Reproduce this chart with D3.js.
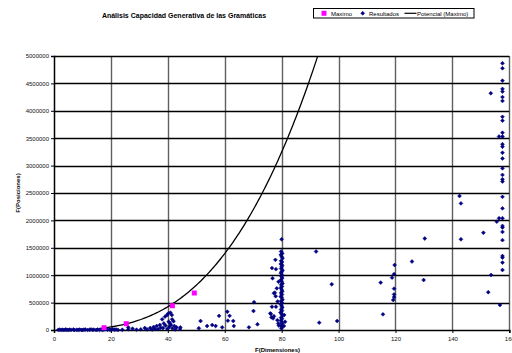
<!DOCTYPE html>
<html>
<head>
<meta charset="utf-8">
<script src="https://cdn.jsdelivr.net/npm/d3@7"></script>
<style>
  body { margin: 0; background: #fff; }
  svg { display: block; font-family: "Liberation Sans", Arial, sans-serif; }
</style>
</head>
<body>
<div id="chart"></div>
<script>
// values
const xTicks = [0, 20, 40, 60, 80, 100, 120, 140, 160];
const yTicks = [0, 500000, 1000000, 1500000, 2000000, 2500000, 3000000, 3500000, 4000000, 4500000, 5000000];

// Maximo series
const maximoX = [17.6, 25.4, 41.6, 49.3];
const maximoY = [42000, 115000, 443000, 675000];

// power trendline of Maximo, y = a * x^b
const trendA = 8.43, trendB = 2.935;
const trendFrom = 17;

// Resultados series, grouped by region of the plot
const resLow = [[1.5,3000],[2,8000],[2.5,2000],[3,6000],[3.5,1000],[4,9000],[4.5,4000],[5,2000],[5.5,7000],[6,3000],
  [6.8,10000],[7.2,1000],[8,5000],[8.5,2000],[9,8000],[9.6,3000],[10,1000],[10.5,6000],[11,9000],[11.8,2000],
  [12.5,5000],[13,11000],[13.6,3000],[14,7000],[14.8,1000],[15.3,9000],[16,4000],[16.5,12000],[17,2000],[17.5,8000],
  [18.2,15000],[18.8,5000],[19.5,10000],[20,3000],[20.6,14000],[21.2,6000],[21.8,9000],[22.5,2000]];
const resMidLow = [[24,4000],[26.1,12000],[26.1,48000],[27.6,25000],[29,6000],[30.5,12000],[31.9,37000],[32.7,10000],
  [33.8,37000],[34.5,8000],[35,55000],[35.5,20000],[36.1,73000],[36.6,15000],[37.2,91000],[37.5,40000]];
const res40 = [[38,195000],[38.3,37000],[38.6,120000],[39,243000],[39.2,80000],[39.7,274000],[39.8,20000],[40.2,304000],
  [40.3,151000],[40.5,55000],[40.8,122000],[40.9,316000],[41.1,90000],[41.4,274000],[41.5,195000],[41.6,30000],
  [42,160000],[42.3,73000],[42.6,10000],[43.1,49000],[44.3,18000],[44.4,49000]];
const resMid = [[50.9,31000],[51.5,164000],[53.8,73000],[55.6,91000],[56.8,73000],[58,258000],[59.1,49000],[60.9,334000],
  [61.1,170000],[61.7,258000],[63,164000],[63.2,73000],[68.5,49000],[70.1,347000],[70.3,508000],[71.5,104000]];
const res78 = [[76,304000],[76.2,292000],[76.4,231000],[76.6,425000],[76.6,1130000],[76.8,943000],[77,213000],[77.3,250000],
  [77.3,670000],[77.6,681000],[77.8,1280000],[77.9,617000],[78,1110000],[78,425000],[78.3,760000],[78.5,180000],
  [78.6,520000],[78.8,120000],[78.9,880000],[79,80000]];
const res80 = [[80,1655000],[79.8,1432000],[80.2,1398000],[79.7,1371000],[80,1335000],[80.3,1310000],[79.8,1262000],
  [80.1,1240000],[79.7,1205000],[80.2,1180000],[80,1152000],[79.8,1121000],[80.3,1090000],[80,1063000],[79.7,1038000],
  [80.1,1002000],[79.9,975000],[80.2,948000],[79.7,912000],[80,886000],[80.3,850000],[79.8,827000],[80.1,795000],
  [79.7,768000],[80,731000],[80.2,705000],[79.8,676000],[80.1,648000],[79.7,612000],[80,590000],[80.3,553000],
  [79.8,528000],[80.1,496000],[79.7,470000],[80,438000],[80.2,410000],[79.8,376000],[80.1,352000],[79.6,318000],
  [80,290000],[80.3,266000],[79.8,228000],[80.1,205000],[79.7,172000],[80,146000],[80.2,118000],[79.8,86000],
  [80.1,60000],[79.9,30000],[80.9,274000],[80.8,73000],[81.2,150000]];
const resRight = [[92.1,1433000],[93.2,134000],[97.6,834000],[99.5,164000],[114.8,865000],[115.6,286000],[118.8,955000],
  [119.2,548000],[119.5,600000],[119.5,650000],[119.5,755000],[119.5,1020000],[119.7,1186000],[125.8,1250000],
  [129.9,912000],[130.3,1670000],[142.5,2445000],[143,2310000],[143,1655000],[150.9,1775000],[152.6,690000],
  [153.5,4320000],[153.6,1004000],[155.6,1977000],[156.4,2040000],[156.4,3530000],[156.7,456000]];
const res157Y = [4867000, 4776000, 4550000, 4400000, 4350000, 4250000, 4180000, 3890000, 3820000, 3600000, 3530000,
  3390000, 3345000, 3235000, 3130000, 2950000, 2830000, 2750000, 2710000, 2430000, 2220000, 2040000, 1900000,
  1870000, 1790000, 1640000, 1350000, 1320000, 1230000, 1095000];
const res157X = 157.6;

const W = 512, H = 353;
const plot = { left: 54, right: 509.3, top: 56, bottom: 330 };

const svg = d3.select("#chart").append("svg")
  .attr("width", W).attr("height", H);

const x = d3.scaleLinear().domain([0, 160]).range([plot.left, plot.right]);
const y = d3.scaleLinear().domain([0, 5000000]).range([plot.bottom, plot.top]);

// title
svg.append("text")
  .attr("x", 184).attr("y", 17.5)
  .attr("text-anchor", "middle")
  .style("font-size", "7px").style("font-weight", "bold")
  .text("Análisis Capacidad Generativa de las Gramáticas");

// gridlines
svg.append("g")
  .selectAll("line")
  .data(xTicks.slice(1))
  .join("line")
  .attr("x1", d => Math.round(x(d)) + 0.5).attr("x2", d => Math.round(x(d)) + 0.5)
  .attr("y1", plot.top).attr("y2", plot.bottom)
  .attr("stroke", "#606060").attr("stroke-width", 1.4);

svg.append("g")
  .selectAll("line")
  .data(yTicks.slice(1))
  .join("line")
  .attr("x1", plot.left).attr("x2", plot.right)
  .attr("y1", d => Math.round(y(d)) + 0.5).attr("y2", d => Math.round(y(d)) + 0.5)
  .attr("stroke", "#000").attr("stroke-width", 1.4);

// axes
const yAxis = svg.append("g")
  .attr("transform", `translate(${plot.left},0)`)
  .call(d3.axisLeft(y).tickValues(yTicks).tickFormat(d3.format("d")).tickSize(3).tickPadding(2));
const xAxis = svg.append("g")
  .attr("transform", `translate(0,${plot.bottom})`)
  .call(d3.axisBottom(x).tickValues(xTicks).tickSize(3).tickPadding(4));

[yAxis, xAxis].forEach(a => {
  a.select(".domain").attr("stroke", "#000").attr("stroke-width", 1.5);
  a.selectAll(".tick line").attr("stroke", "#000");
  a.selectAll(".tick text").style("font-size", "6px").attr("fill", "#111");
  a.attr("font-family", null).attr("font-size", null);
});

// axis titles
svg.append("text")
  .attr("x", 277.5).attr("y", 352)
  .attr("text-anchor", "middle")
  .style("font-size", "6px").style("font-weight", "bold")
  .text("F(Dimensiones)");

svg.append("text")
  .attr("transform", `translate(20,193) rotate(-90)`)
  .attr("text-anchor", "middle")
  .style("font-size", "6px").style("font-weight", "bold")
  .text("F(Posiciones)");

// clip to plot area
svg.append("clipPath").attr("id", "clip")
  .append("rect")
  .attr("x", plot.left).attr("y", plot.top)
  .attr("width", plot.right - plot.left).attr("height", plot.bottom - plot.top);

// trendline
const trendXs = d3.range(trendFrom, 160.01, 0.5);
svg.append("path")
  .datum(trendXs)
  .attr("clip-path", "url(#clip)")
  .attr("fill", "none")
  .attr("stroke", "#000")
  .attr("stroke-width", 1.3)
  .attr("d", d3.line()
    .x(d => x(d))
    .y(d => y(Math.min(trendA * Math.pow(d, trendB), 6000000))));

// Resultados
const resultados = [].concat(resLow, resMidLow, res40, resMid, res78, res80, resRight,
  res157Y.map(v => [res157X, v]));

const diamond = d3.symbol().type(d3.symbolSquare).size(7.5);
svg.append("g")
  .selectAll("path")
  .data(resultados)
  .join("path")
  .attr("d", diamond)
  .attr("transform", d => `translate(${x(d[0])},${y(d[1])}) rotate(45)`)
  .attr("fill", "#000080")
  .attr("stroke", "#000080")
  .attr("stroke-width", 0.5);

// Maximo
svg.append("g")
  .selectAll("rect")
  .data(maximoX.map((v, i) => [v, maximoY[i]]))
  .join("rect")
  .attr("x", d => x(d[0]) - 2.5).attr("y", d => y(d[1]) - 2.5)
  .attr("width", 5).attr("height", 5)
  .attr("fill", "#ff00ff");

// legend
const legend = svg.append("g");
legend.append("rect")
  .attr("x", 313.5).attr("y", 8.5).attr("width", 160.5).attr("height", 9.5)
  .attr("fill", "#fff").attr("stroke", "#000").attr("stroke-width", 1);
legend.append("rect")
  .attr("x", 321.5).attr("y", 10.8).attr("width", 5).attr("height", 5)
  .attr("fill", "#ff00ff");
legend.append("path")
  .attr("d", diamond)
  .attr("transform", "translate(362.7,13.3) rotate(45)")
  .attr("fill", "#000080").attr("stroke", "#000080").attr("stroke-width", 0.5);
legend.append("line")
  .attr("x1", 404.5).attr("x2", 416.5).attr("y1", 13.3).attr("y2", 13.3)
  .attr("stroke", "#000").attr("stroke-width", 1.2);
const legendText = [["Maximo", 331], ["Resultados", 369], ["Potencial (Maximo)", 417]];
legend.selectAll("text.lg")
  .data(legendText)
  .join("text")
  .attr("class", "lg")
  .attr("x", d => d[1]).attr("y", 15.5)
  .style("font-size", "6px")
  .text(d => d[0]);
</script>
</body>
</html>
